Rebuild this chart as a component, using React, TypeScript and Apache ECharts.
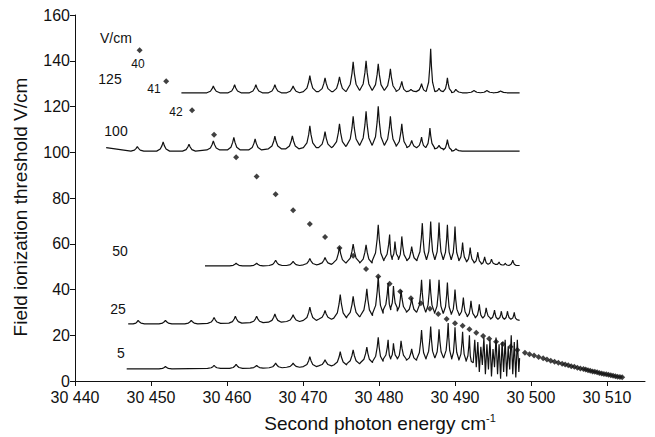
import { useEffect, useRef } from "react";
import * as echarts from "echarts";

const energyTicks = [30440, 30450, 30460, 30470, 30480, 30490, 30500, 30510];

// Each spectrum: start/end energy, start/end level, peaks as [energy, top, foot]
const trace125Range = [30454.0, 30498.5, 126, 126];
const trace125Peaks = [
  [30458.2, 129, 126], [30461.0, 129.5, 126], [30463.8, 129.5, 126], [30466.3, 129.5, 126],
  [30468.7, 129, 126], [30470.9, 133.5, 126.5], [30472.9, 132.5, 126.5], [30474.8, 133, 126.5],
  [30476.6, 139.5, 127], [30478.3, 140, 127], [30479.9, 138.7, 127], [30481.5, 136.5, 127],
  [30483.0, 131, 126.5], [30484.2, 127.5, 126.5], [30485.6, 130, 126.5], [30486.8, 145.2, 126.5],
  [30487.9, 128, 126.5], [30489.0, 132.5, 126.5], [30490.1, 127.5, 126], [30492.5, 127, 126],
  [30494.2, 127, 126], [30496.0, 126.8, 126],
];

const trace100Range = [30444.1, 30498.5, 102, 100.5];
const trace100Peaks = [
  [30448.2, 102.5, 100.5], [30451.6, 104.5, 100.5], [30455.0, 103.5, 100.5], [30458.2, 105, 101],
  [30460.9, 106.5, 101], [30463.7, 105.8, 101], [30466.3, 107, 101.5], [30468.6, 107.2, 101.5],
  [30470.9, 111.5, 102], [30472.9, 109, 102], [30474.8, 112.4, 102.5], [30476.6, 115.7, 103],
  [30478.3, 117.9, 103], [30479.9, 120.1, 103], [30481.5, 115.7, 103], [30483.0, 112.4, 102.5],
  [30484.3, 105.2, 102], [30485.6, 106.6, 102], [30486.7, 110.6, 102], [30487.9, 103, 101.5],
  [30489.0, 105.5, 101], [30490.1, 101.5, 100.5],
];

const trace50Range = [30457.1, 30498.5, 50.3, 50.5];
const trace50Peaks = [
  [30461.2, 51.5, 50.3], [30463.9, 51.5, 50.3], [30466.4, 52.8, 50.5], [30468.7, 52.3, 50.5],
  [30470.9, 53.5, 50.8], [30472.9, 54, 51], [30474.8, 58.5, 51.5], [30476.6, 59.9, 52],
  [30478.3, 59.5, 51.5], [30479.9, 68.3, 52.5], [30481.4, 64, 53], [30482.1, 61, 54],
  [30483.0, 63.2, 53], [30484.3, 58.8, 52.5], [30485.7, 69, 53], [30486.8, 69.7, 53],
  [30487.9, 69.3, 53], [30489.0, 68.3, 53], [30490.0, 67.5, 53], [30491.0, 60.5, 52.5],
  [30492.0, 58.3, 52], [30493.0, 56.3, 51.5], [30493.9, 54.3, 51], [30494.8, 53.3, 51],
  [30495.8, 52, 50.7], [30496.6, 51.5, 50.5], [30497.6, 52.8, 50.5],
];

const trace25Range = [30447.0, 30498.5, 25, 26.5];
const trace25Peaks = [
  [30448.3, 26.5, 25], [30451.9, 26.5, 25], [30455.3, 26.5, 25], [30458.3, 27.8, 25.2],
  [30461.1, 28.3, 25.3], [30463.9, 28.3, 25.5], [30466.3, 29.3, 25.7], [30468.7, 29, 26],
  [30470.9, 32.3, 26.5], [30472.9, 30.8, 27], [30474.9, 37.8, 27.5], [30476.6, 37, 28],
  [30478.4, 40.3, 28.5], [30479.9, 45.7, 29.5], [30481.2, 42.8, 31], [30481.9, 41.5, 32],
  [30482.9, 39.8, 30.5], [30484.3, 36.2, 30], [30485.6, 44.2, 30], [30486.7, 44.5, 30],
  [30487.9, 44.2, 29.5], [30489.0, 43, 29.5], [30490.0, 40, 29], [30491.1, 36.5, 28.5],
  [30492.1, 35, 28], [30493.2, 33.5, 27.5], [30494.1, 32, 27.5], [30495.2, 31, 27],
  [30496.1, 30.5, 27], [30496.9, 30.5, 27], [30497.8, 30, 26.8],
];

const trace5Range = [30446.8, 30498.5, 5.3, 10];
const trace5Peaks = [
  [30451.9, 6.3, 5.3], [30458.3, 6.8, 5.5], [30461.2, 7.3, 5.5], [30463.9, 6.8, 5.6],
  [30466.4, 7.8, 5.8], [30468.7, 7.8, 6], [30470.9, 10.6, 6.3], [30472.9, 9.3, 6.6],
  [30474.9, 12.8, 7], [30476.6, 13.6, 7.5], [30478.4, 14.8, 8], [30479.9, 19.1, 8.5],
  [30481.2, 18, 9.5], [30481.9, 16.5, 10], [30482.9, 17.6, 9.5], [30484.3, 14, 9],
  [30485.6, 22.3, 9.5], [30486.8, 23.8, 10], [30487.9, 22.6, 10], [30489.1, 25.3, 10],
  [30490.0, 23.5, 9.5], [30491.0, 21.5, 9], [30491.9, 20, 8.5],
];
// Dense unresolved region at the end of the 5 V/cm trace: [energy, value]
const trace5Dense = [
  [30492.4, 8], [30492.6, 18], [30492.8, 6], [30493.0, 17], [30493.2, 4], [30493.4, 15],
  [30493.6, 7], [30493.8, 19], [30494.0, 3], [30494.2, 16], [30494.4, 5], [30494.6, 18],
  [30494.8, 2], [30495.0, 14], [30495.2, 6], [30495.4, 19], [30495.6, 3], [30495.8, 16],
  [30496.0, 1], [30496.2, 17], [30496.4, 4], [30496.6, 18], [30496.8, 2], [30497.0, 15],
  [30497.2, 5], [30497.4, 20], [30497.6, 3], [30497.8, 17], [30498.0, 1.5], [30498.2, 18],
  [30498.4, 4],
];

// Threshold field for each Rydberg state (diamonds)
const thresholdEnergy = [
  30448.5, 30452.0, 30455.4, 30458.3, 30461.2, 30463.9, 30466.4, 30468.7, 30470.9, 30472.9,
  30474.8, 30476.6, 30478.3, 30479.9, 30481.4, 30482.8, 30484.2, 30485.5, 30486.7, 30487.8,
  30488.9, 30490.0, 30491.0, 30491.9, 30492.8, 30493.7, 30494.5, 30495.4, 30496.3, 30497.3,
  30498.2, 30499.2, 30499.8, 30500.4, 30501.0, 30501.6, 30502.1, 30502.6, 30503.1, 30503.6,
  30504.1, 30504.5, 30504.9, 30505.3, 30505.7, 30506.1, 30506.5, 30506.9, 30507.2, 30507.5,
  30507.8, 30508.1, 30508.4, 30508.7, 30509.0, 30509.3, 30509.6, 30509.9, 30510.2, 30510.5,
  30510.8, 30511.1, 30511.4, 30511.7, 30512.0,
];
const thresholdField = [
  144.6, 131.0, 118.4, 107.6, 97.8, 89.4, 81.6, 74.6, 68.6, 62.9,
  58.1, 54.7, 49.0, 45.7, 42.5, 39.1, 36.2, 34.0, 31.6, 29.3,
  27.1, 25.3, 24.1, 22.6, 21.1, 19.7, 18.5, 17.2, 16.2, 15.0,
  13.6, 12.4, 11.7, 11.1, 10.5, 9.9, 9.4, 8.9, 8.4, 8.0,
  7.5, 7.2, 6.9, 6.5, 6.2, 5.8, 5.5, 5.2, 5.0, 4.7,
  4.5, 4.2, 4.0, 3.8, 3.5, 3.3, 3.1, 2.9, 2.7, 2.5,
  2.3, 2.1, 1.9, 1.7, 1.6,
];

const traceLabels = ["125", "100", "50", "25", "5"];
const stateLabels = ["40", "41", "42"];

const FONT = "'Liberation Sans', Arial, Helvetica, sans-serif";
const INK = "#111111";

function buildTrace(range: number[], peaks: number[][], extra: number[][] = []) {
  const [start, end, startLevel, endLevel] = range;
  const pts: number[][] = [[start, startLevel]];
  for (let i = 0; i < peaks.length; i++) {
    const [e, top, foot] = peaks[i];
    const prev = i > 0 ? peaks[i - 1][0] : start;
    const next = i < peaks.length - 1 ? peaks[i + 1][0] : (extra.length ? extra[0][0] : end);
    const wl = Math.min(0.85, (e - prev) / 2);
    const wr = Math.min(0.85, (next - e) / 2);
    const h = top - foot;
    pts.push(
      [e - wl, foot],
      [e - wl * 0.45, foot + 0.22 * h],
      [e - wl * 0.18, foot + 0.6 * h],
      [e, top],
      [e + wr * 0.18, foot + 0.6 * h],
      [e + wr * 0.45, foot + 0.22 * h],
      [e + wr, foot]
    );
  }
  for (const p of extra) pts.push(p);
  pts.push([end, endLevel]);
  return pts;
}

export default function App() {
  const ref = useRef<HTMLDivElement>(null);
  useEffect(() => {
    if (!ref.current) return;
    const chart = echarts.init(ref.current, undefined, { renderer: "svg" });
    const traces = [
      buildTrace(trace125Range, trace125Peaks),
      buildTrace(trace100Range, trace100Peaks),
      buildTrace(trace50Range, trace50Peaks),
      buildTrace(trace25Range, trace25Peaks),
      buildTrace(trace5Range, trace5Peaks, trace5Dense),
    ];
    const lineSeries = traces.map((data, i) => ({
      type: "line",
      name: traceLabels[i],
      data,
      showSymbol: false,
      symbol: "none",
      lineStyle: { color: INK, width: 1.2 },
      z: 2,
    }));
    const textStyle = (t: string, size: number) => ({
      text: t,
      fontSize: size,
      fontFamily: FONT,
      fill: INK,
    });
    chart.setOption({
      animation: false,
      backgroundColor: "#ffffff",
      grid: { left: 75, right: 10, top: 15, bottom: 56 },
      xAxis: {
        type: "value",
        min: 30440,
        max: 30515,
        interval: 10,
        axisLine: { lineStyle: { color: INK, width: 1 } },
        axisTick: { show: true, length: 5, inside: false, customValues: energyTicks, lineStyle: { color: INK } },
        axisLabel: {
          customValues: energyTicks,
          fontSize: 16,
          fontFamily: FONT,
          color: INK,
          margin: 8,
          formatter: (v: number) => {
            const s = String(Math.round(v));
            return s.slice(0, 2) + " " + s.slice(2);
          },
        },
        splitLine: { show: false },
      },
      yAxis: {
        type: "value",
        min: 0,
        max: 160,
        interval: 20,
        axisLine: { show: true, lineStyle: { color: INK, width: 1 } },
        axisTick: { show: true, length: 5, lineStyle: { color: INK } },
        axisLabel: { fontSize: 16, fontFamily: FONT, color: INK, margin: 5 },
        splitLine: { show: false },
      },
      series: [
        ...lineSeries,
        {
          type: "scatter",
          data: thresholdEnergy.map((e, i) => [e, thresholdField[i]]),
          symbol: "diamond",
          symbolSize: 6,
          itemStyle: { color: INK },
          z: 3,
        },
      ],
      graphic: [
        { type: "text", x: 20, y: 207, rotation: Math.PI / 2, style: { ...textStyle("Field ionization threshold V/cm", 19), align: "center", verticalAlign: "middle" } },
        {
          type: "text",
          x: 380,
          y: 423,
          style: {
            text: "Second photon energy cm{sup|-1}",
            fontSize: 19,
            fontFamily: FONT,
            fill: INK,
            align: "center",
            verticalAlign: "middle",
            rich: { sup: { fontSize: 11, fontFamily: FONT, fill: INK, verticalAlign: "top", padding: [0, 0, 10, 0] } },
          },
        },
        { type: "text", x: 100, y: 38, style: { ...textStyle("V/cm", 14), align: "left", verticalAlign: "middle" } },
        { type: "text", x: 110, y: 79, style: { ...textStyle(traceLabels[0], 14), align: "center", verticalAlign: "middle" } },
        { type: "text", x: 116, y: 131, style: { ...textStyle(traceLabels[1], 14), align: "center", verticalAlign: "middle" } },
        { type: "text", x: 120, y: 251, style: { ...textStyle(traceLabels[2], 14), align: "center", verticalAlign: "middle" } },
        { type: "text", x: 118, y: 309, style: { ...textStyle(traceLabels[3], 14), align: "center", verticalAlign: "middle" } },
        { type: "text", x: 121, y: 353, style: { ...textStyle(traceLabels[4], 14), align: "center", verticalAlign: "middle" } },
        { type: "text", x: 138, y: 64, style: { ...textStyle(stateLabels[0], 12), align: "center", verticalAlign: "middle" } },
        { type: "text", x: 154, y: 89, style: { ...textStyle(stateLabels[1], 12), align: "center", verticalAlign: "middle" } },
        { type: "text", x: 176, y: 112, style: { ...textStyle(stateLabels[2], 12), align: "center", verticalAlign: "middle" } },
      ],
    });
    return () => chart.dispose();
  }, []);
  return <div ref={ref} style={{ width: 655, height: 437, position: "absolute", left: 0, top: 0 }} />;
}
